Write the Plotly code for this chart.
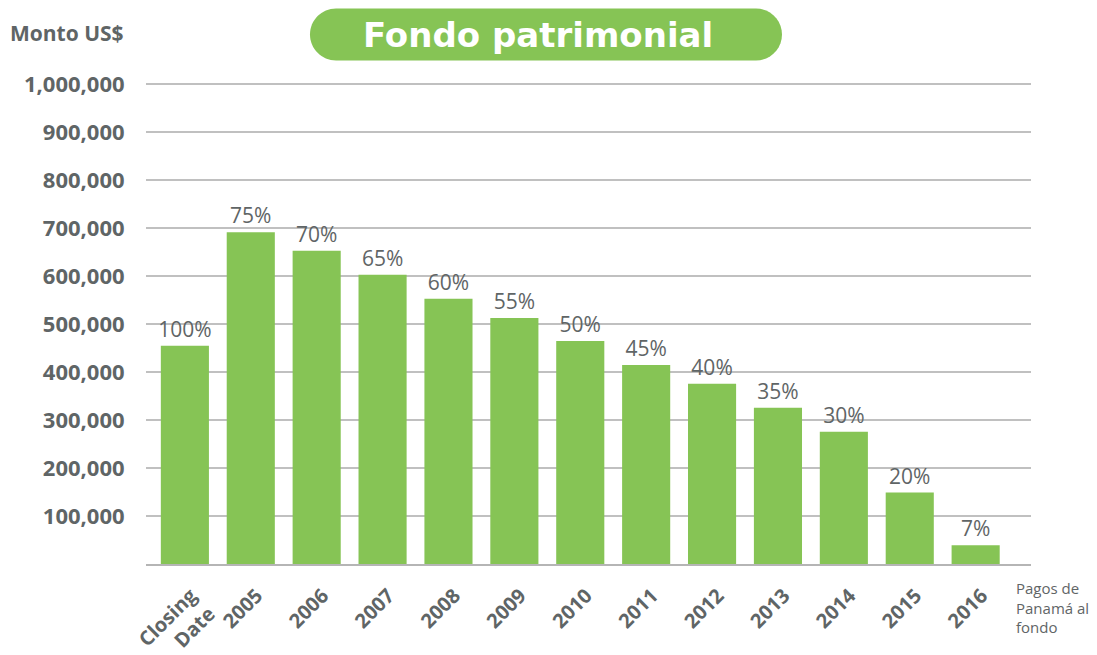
import plotly.graph_objects as go

categories = ["Closing<br>Date", "2005", "2006", "2007", "2008", "2009", "2010",
              "2011", "2012", "2013", "2014", "2015", "2016"]
values = [455000, 692000, 653000, 603000, 553000, 513000, 465000,
          415000, 376000, 326000, 276000, 149000, 39000]
pct_labels = ["100%", "75%", "70%", "65%", "60%", "55%", "50%",
              "45%", "40%", "35%", "30%", "20%", "7%"]
tick_vals = [100000, 200000, 300000, 400000, 500000, 600000, 700000,
             800000, 900000, 1000000]
tick_text = [f"{v:,}" for v in tick_vals]

W, H = 1097, 655
OFF = 8  # page body margin offset
YMAX = 1003000
PLOT_L, PLOT_R = 146 - OFF, 1031 - OFF
PLOT_B = 564 - OFF
PLOT_H = 480 * YMAX / 1000000
PLOT_T = PLOT_B - PLOT_H
L, R, T, B = PLOT_L, W - PLOT_R, PLOT_T, H - PLOT_B
GREEN = "#86c455"
GRAY = "#5f6566"

def px_to_paper(x, y):
    # x, y given in screenshot pixels
    x -= OFF
    y -= OFF
    return (x - PLOT_L) / (PLOT_R - PLOT_L), (PLOT_B - y) / PLOT_H

# pill shape (title background)
x0, x1, y0, y1 = 310, 782, 8, 60
r = (y1 - y0) / 2
k = 0.5523 * r
def P(x, y):
    px, py = px_to_paper(x, y)
    return f"{px:.5f},{py:.5f}"
path = (
    f"M {P(x0 + r, y0)} L {P(x1 - r, y0)} "
    f"C {P(x1 - r + k, y0)} {P(x1, y0 + r - k)} {P(x1, y0 + r)} "
    f"C {P(x1, y0 + r + k)} {P(x1 - r + k, y1)} {P(x1 - r, y1)} "
    f"L {P(x0 + r, y1)} "
    f"C {P(x0 + r - k, y1)} {P(x0, y0 + r + k)} {P(x0, y0 + r)} "
    f"C {P(x0, y0 + r - k)} {P(x0 + r - k, y0)} {P(x0 + r, y0)} Z"
)

fig = go.Figure()
fig.add_trace(go.Bar(
    x=list(range(len(categories))),
    y=values,
    text=pct_labels,
    textposition="outside",
    constraintext="none",
    textfont=dict(family="Open Sans", size=21, color=GRAY),
    cliponaxis=False,
    marker=dict(color=GREEN, line=dict(width=0)),
    width=0.73,
))

fig.update_layout(
    width=W, height=H,
    margin=dict(l=L, r=R, t=T, b=B, autoexpand=False),
    plot_bgcolor="white", paper_bgcolor="white",
    showlegend=False,
    font=dict(family="Open Sans", color=GRAY),
    xaxis=dict(
        range=[-0.59, 12.84],
        tickmode="array",
        tickvals=list(range(len(categories))),
        ticktext=[f"<b>{c}</b>" for c in categories],
        tickangle=-45,
        tickfont=dict(family="Open Sans", size=20, color=GRAY),
        ticklabelstandoff=10,
        ticklabelshift=6,
        showgrid=False,
        showline=True, linecolor="#b5b5b5", linewidth=2,
        ticks="",
        zeroline=False,
        automargin=False,
    ),
    yaxis=dict(
        range=[0, YMAX],
        tickmode="array",
        tickvals=tick_vals,
        ticktext=[f"<b>{t}</b>" for t in tick_text],
        tickfont=dict(family="Open Sans", size=22, color=GRAY),
        showgrid=True, gridcolor="#c0c0c0", gridwidth=1.5,
        zeroline=False,
        ticks="outside", ticklen=16, tickcolor="rgba(0,0,0,0)",
        automargin=False,
    ),
    shapes=[dict(type="path", path=path, xref="paper", yref="paper",
                 fillcolor=GREEN, line=dict(width=0), layer="above")],
    annotations=[
        dict(text="<b>Fondo patrimonial</b>", x=px_to_paper(538, 0)[0],
             y=px_to_paper(0, 35)[1], xref="paper", yref="paper",
             showarrow=False, xanchor="center", yanchor="middle",
             font=dict(family="DejaVu Sans", size=34, color="white")),
        dict(text="<b>Monto US$</b>", x=px_to_paper(126, 0)[0],
             y=px_to_paper(0, 33)[1], xref="paper", yref="paper",
             showarrow=False, xanchor="right", yanchor="middle",
             font=dict(family="Open Sans", size=21, color=GRAY)),
        dict(text="Pagos de<br>Panamá al<br>fondo", x=px_to_paper(1014, 0)[0],
             y=px_to_paper(0, 576)[1], xref="paper", yref="paper",
             showarrow=False, xanchor="left", yanchor="top", align="left",
             font=dict(family="Open Sans", size=15, color=GRAY)),
    ],
)

fig.write_html("out.html")
